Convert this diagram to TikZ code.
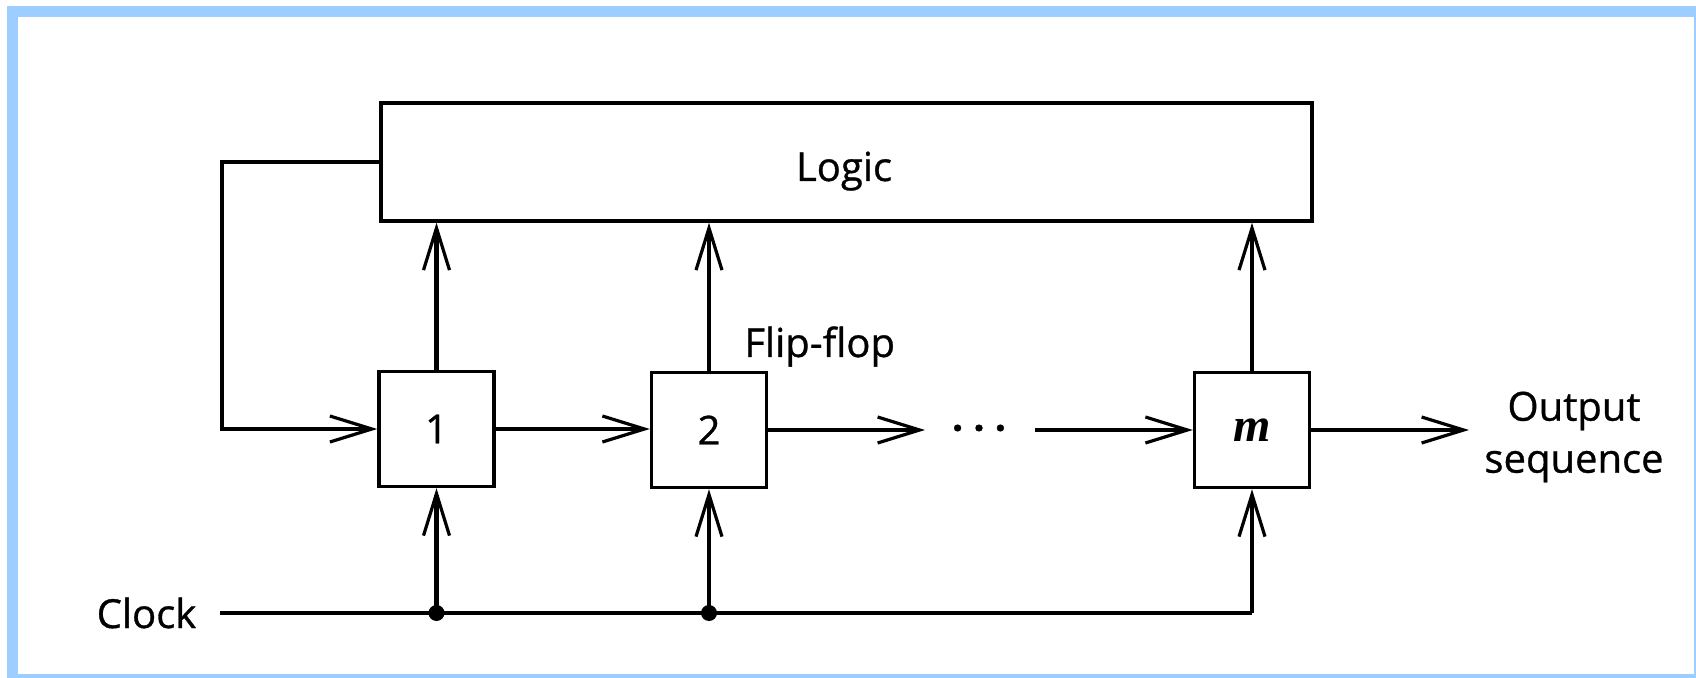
\documentclass[tikz,border=0pt]{standalone}
\usepackage{fontspec}
\setmainfont{Open Sans}[FakeBold=0.8]
\newfontfamily\serifm{Liberation Serif}
\usetikzlibrary{arrows.meta}
\definecolor{frameblue}{RGB}{158,206,255}
\begin{document}
\begin{tikzpicture}[x=0.5pt,y=-0.5pt,
  box/.style={draw, line width=1.7pt, inner sep=0pt, minimum width=57.5pt, minimum height=57.5pt, font=\fontsize{20}{24}\selectfont},
  wire/.style={line width=2.3pt},
  thinwire/.style={line width=1.6pt},
  arr/.style={-{Straight Barb[length=21pt,width=13pt,line width=1.6pt]}},
  txt/.style={font=\fontsize{20}{26}\selectfont, inner sep=0pt},
  jdot/.style={circle, fill, inner sep=0pt, minimum size=8pt}]
\useasboundingbox (0,0) rectangle (1696,678);
\fill[white] (0,0) rectangle (1696,678);
\begin{scope}
\clip (0,0) rectangle (1696,678);
\draw[line width=5.5pt, frameblue] (12.5,11.5) rectangle (1699,679);
\end{scope}
% nodes
\node[box, minimum width=465.5pt, minimum height=59pt] (logic) at (846.5,162) {};
\node[txt, anchor=base] (logictxt) at (844,181) {Logic};
\node[box] (b1) at (436.5,429) {1};
\node[box] (b2) at (709,430) {2};
\node[box] (bm) at (1252,430) {{\fontsize{24}{24}\selectfont\serifm\bfseries\itshape m}};
\node[txt] (dots) at (979,428) {\bfseries.\hspace{5pt}.\hspace{5pt}.};
\node[txt, align=center] (outtxt) at (1574,437) {Output\\sequence};
\node[txt, anchor=base west] (ff) at (744,357) {Flip-flop};
\node[txt] (clock) at (146.5,613) {Clock};
% coordinates
\coordinate (fb1) at (222,162);
\coordinate (fb2) at (222,429);
\coordinate (d1) at (925,430);
\coordinate (d2) at (1035,430);
\coordinate (out) at (1469,430);
\coordinate (c0) at (220,613);
\coordinate (km) at (1252,613);
\node[jdot] (k1) at (436.5,613) {};
\node[jdot] (k2) at (709,613) {};
% connectors
\draw[wire, arr] (logic.west) -- (fb1) -- (fb2) -- (b1.west);
\draw[wire, arr] (b1.east) -- (b1.east -| b2.west);
\draw[wire, arr] (b2.east) -- (d1);
\draw[wire, arr] (d2) -- (bm.west);
\draw[wire, arr] (bm.east) -- (out);
\draw[wire, arr] (b1.north) -- (b1.north |- logic.south);
\draw[thinwire, arr] (b2.north) -- (b2.north |- logic.south);
\draw[thinwire, arr] (bm.north) -- (bm.north |- logic.south);
\draw[wire] (c0) -- (km);
\draw[thinwire, arr] (km) -- (bm.south);
\draw[wire, arr] (k1.center) -- (b1.south);
\draw[thinwire, arr] (k2.center) -- (b2.south);
\end{tikzpicture}
\end{document}
